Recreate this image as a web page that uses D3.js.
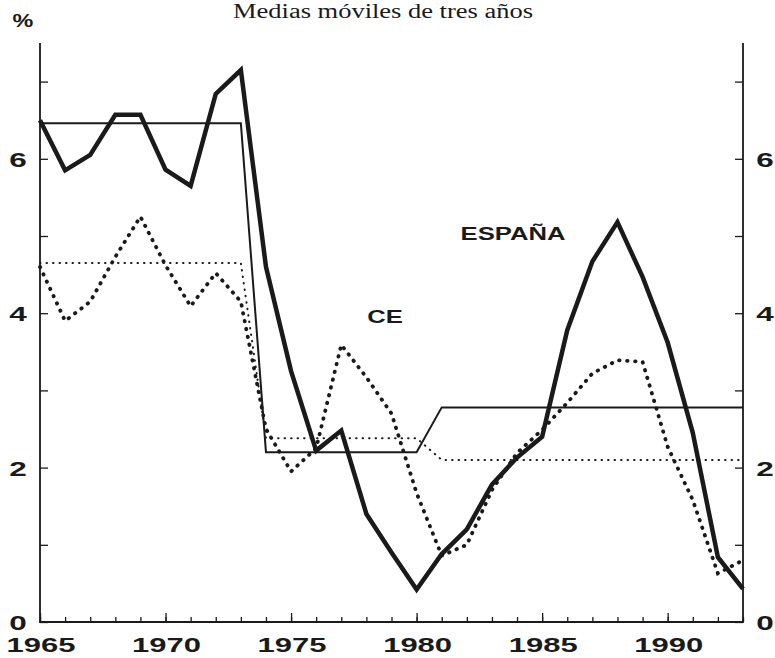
<!DOCTYPE html>
<html>
<head>
<meta charset="utf-8">
<script src="https://cdn.jsdelivr.net/npm/d3@7/dist/d3.min.js"></script>
<style>
  html, body { margin: 0; padding: 0; background: #fff; }
  svg { display: block; }
  text { font-family: "Liberation Sans", Arial, sans-serif; fill: #1a1a1a; }
</style>
</head>
<body>
<svg id="chart" width="775" height="658"></svg>
<script>
// ---- data ----
const years = d3.range(1965, 1994);
const espana = [6.50, 5.85, 6.05, 6.57, 6.57, 5.86, 5.65, 6.84, 7.15, 4.60,
                3.25, 2.22, 2.48, 1.40, 0.90, 0.42, 0.88, 1.20, 1.78, 2.13,
                2.40, 3.78, 4.67, 5.18, 4.47, 3.62, 2.45, 0.84, 0.43];
const ce = [4.60, 3.90, 4.15, 4.73, 5.25, 4.62, 4.09, 4.52, 4.15, 2.50,
            1.95, 2.25, 3.59, 3.17, 2.70, 1.67, 0.86, 1.00, 1.71, 2.19,
            2.49, 2.84, 3.22, 3.39, 3.37, 2.27, 1.58, 0.63, 0.80];
const espanaMean = [6.46, 6.46, 6.46, 6.46, 6.46, 6.46, 6.46, 6.46, 6.46,
                    2.20, 2.20, 2.20, 2.20, 2.20, 2.20, 2.20,
                    2.78, 2.78, 2.78, 2.78, 2.78, 2.78, 2.78, 2.78, 2.78, 2.78, 2.78, 2.78, 2.78];
const ceMean = [4.65, 4.65, 4.65, 4.65, 4.65, 4.65, 4.65, 4.65, 4.65,
                2.38, 2.38, 2.38, 2.38, 2.38, 2.38, 2.38,
                2.10, 2.10, 2.10, 2.10, 2.10, 2.10, 2.10, 2.10, 2.10, 2.10, 2.10, 2.10, 2.10];
const yTickLabels = ["0", "2", "4", "6"];
const xTickLabels = ["1965", "1970", "1975", "1980", "1985", "1990"];
const titleText = "Medias móviles de tres años";
const unitLabel = "%";
const seriesLabels = [{name: "ESPAÑA", year: 1983.84, value: 4.95},
                      {name: "CE", year: 1978.74, value: 3.87}];

// ---- layout ----
const svg = d3.select("#chart");
const mLeft = 40, mRight = 743, mTop = 43, mBottom = 622;
const x = d3.scaleLinear().domain([1965, 1993]).range([mLeft, mRight]);
const y = d3.scaleLinear().domain([0, 7.5]).range([mBottom, mTop]);
const ink = "#1a1a1a";

// title
svg.append("text")
  .attr("x", 233).attr("y", 18)
  .attr("textLength", 300).attr("lengthAdjust", "spacingAndGlyphs")
  .style("font-family", "'Liberation Serif', 'Times New Roman', serif")
  .style("font-size", "20px")
  .text(titleText);

svg.append("text")
  .attr("transform", "translate(23,27) scale(1.3,1)")
  .attr("text-anchor", "middle")
  .style("font-size", "18px").style("font-weight", "bold")
  .text(unitLabel);

// axes
const yAxisL = d3.axisRight(y).tickValues(d3.range(0, 8)).tickSize(8).tickFormat("");
const yAxisR = d3.axisLeft(y).tickValues(d3.range(0, 8)).tickSize(8).tickFormat("");
const xAxisMinor = d3.axisTop(x).tickValues(years).tickSize(5).tickFormat("");
const xAxisMajor = d3.axisTop(x).tickValues(xTickLabels.map(Number)).tickSize(9).tickFormat("");

function styleAxis(g) {
  g.select(".domain").remove();
  g.selectAll("line").attr("stroke", ink).attr("stroke-width", 1.3);
}
svg.append("g").attr("transform", `translate(${mLeft},0)`).call(yAxisL).call(styleAxis);
svg.append("g").attr("transform", `translate(${mRight},0)`).call(yAxisR).call(styleAxis);
svg.append("g").attr("transform", `translate(0,${mBottom})`).call(xAxisMinor).call(styleAxis);
svg.append("g").attr("transform", `translate(0,${mBottom})`).call(xAxisMajor).call(styleAxis);

// axis lines
svg.append("path")
  .attr("d", `M${mLeft},${mTop}V${mBottom}H${mRight}V${mTop}`)
  .attr("fill", "none").attr("stroke", ink).attr("stroke-width", 1.8);

// y tick labels both sides (horizontally extended like the original type)
yTickLabels.forEach(t => {
  const v = +t;
  [18, 765].forEach(cx => {
    svg.append("text")
      .attr("transform", `translate(${cx},${y(v) + 8}) scale(1.5,1)`)
      .attr("text-anchor", "middle")
      .style("font-size", "21px").style("font-weight", "bold")
      .text(t);
  });
});

// x tick labels
xTickLabels.forEach(t => {
  svg.append("text")
    .attr("transform", `translate(${x(+t) + 1},652) scale(1.55,1)`)
    .attr("text-anchor", "middle")
    .style("font-size", "20px").style("font-weight", "bold")
    .text(t);
});

// lines
const line = d3.line().x(d => x(d[0])).y(d => y(d[1]));
function draw(vals, width, dash) {
  const p = svg.append("path")
    .datum(years.map((yr, i) => [yr, vals[i]]))
    .attr("d", line)
    .attr("fill", "none")
    .attr("stroke", ink)
    .attr("stroke-width", width);
  if (dash) p.attr("stroke-dasharray", dash).attr("stroke-linecap", "round");
  else p.attr("stroke-linejoin", "miter");
  return p;
}
draw(espanaMean, 2, null);
draw(ceMean, 2, "0.5,6");
draw(ce, 3.8, "0.5,7.5");
draw(espana, 4.5, null);

// series labels
seriesLabels.forEach(s => {
  svg.append("text")
    .attr("transform", `translate(${x(s.year)},${y(s.value)}) scale(1.35,1)`)
    .attr("text-anchor", "middle")
    .style("font-size", "19px").style("font-weight", "bold")
    .text(s.name);
});
</script>
</body>
</html>
